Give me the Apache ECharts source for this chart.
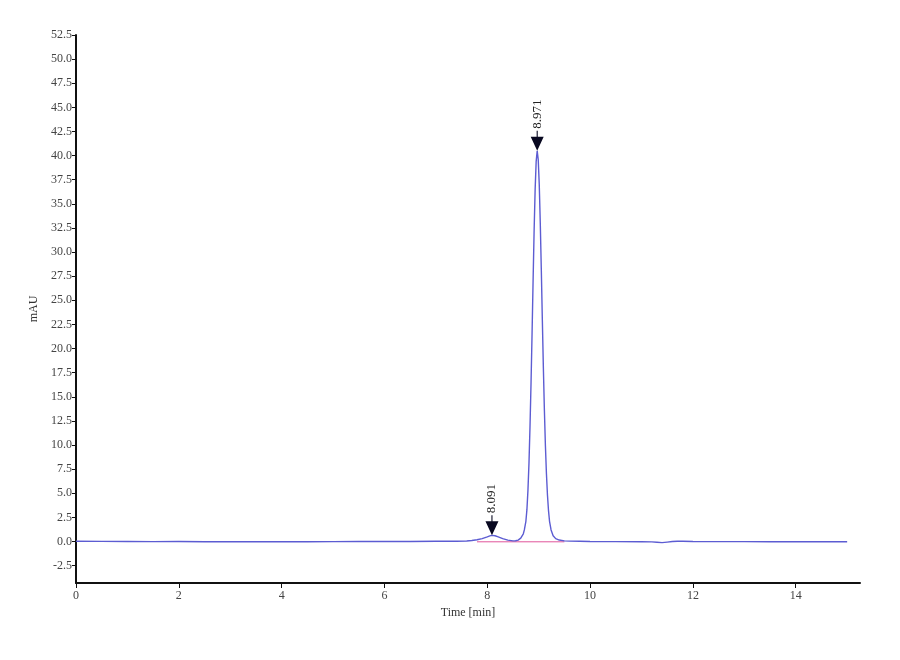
<!DOCTYPE html>
<html>
<head>
<meta charset="utf-8">
<script src="https://cdn.jsdelivr.net/npm/echarts@6/dist/echarts.min.js"></script>
<style>
  html, body { margin: 0; padding: 0; background: #fff; }
  #chart { width: 900px; height: 660px; }
</style>
</head>
<body>
<div id="chart"></div>
<script>
// Chromatogram trace (time in min, signal in mAU).
const times = [
  0, 0.5, 1, 1.5, 2, 2.5, 3, 3.5, 4, 4.5, 5, 5.5, 6, 6.5, 7, 7.4, 7.6, 7.7, 7.8, 7.9,
  8.0, 8.05, 8.091, 8.15, 8.2, 8.3, 8.4, 8.5, 8.55, 8.6, 8.651, 8.701, 8.721, 8.751,
  8.771, 8.791, 8.811, 8.831, 8.851, 8.871, 8.891, 8.911, 8.931, 8.951, 8.971,
  8.991, 9.011, 9.031, 9.051, 9.071, 9.091, 9.111, 9.131, 9.151, 9.171, 9.191,
  9.211, 9.241, 9.281, 9.331, 9.4, 9.5, 9.6, 9.8, 10.0, 10.5, 11.0, 11.2, 11.3,
  11.4, 11.5, 11.6, 11.7, 11.8, 12.0, 12.5, 13.0, 13.5, 14.0, 14.5, 15.0
];
const signal = [
  0.02, 0.01, 0.0, -0.01, 0.0, -0.02, -0.02, -0.03, -0.03, -0.02, -0.01, 0.0, 0.0, 0.0, 0.02, 0.03, 0.06, 0.1, 0.18, 0.3,
  0.48, 0.58, 0.64, 0.6, 0.5, 0.3, 0.14, 0.07, 0.08, 0.15, 0.35, 0.8, 1.2, 2.1,
  3.3, 5.3, 8.1, 11.9, 16.4, 21.5, 27.0, 32.2, 36.5, 39.4, 40.5,
  39.6, 37.0, 33.0, 28.2, 23.0, 18.0, 13.6, 9.9, 7.0, 4.8, 3.2,
  2.1, 1.2, 0.6, 0.3, 0.15, 0.07, 0.04, 0.02, 0.0, -0.01, -0.02, -0.04, -0.08,
  -0.12, -0.06, 0.0, 0.03, 0.02, 0.0, -0.01, -0.01, -0.02, -0.01, -0.02, -0.02
];

// integration baseline drawn under the two peaks
const baseTimes = [7.8, 9.5];
const baseValues = [-0.03, -0.03];

// marked peaks
const peakTimes = [8.091, 8.971];
const peakHeights = [0.64, 40.5];
const peakLabels = ['8.091', '8.971'];

// axis ticks
const xTicks = [0, 2, 4, 6, 8, 10, 12, 14];
const yTicks = [-2.5, 0, 2.5, 5, 7.5, 10, 12.5, 15, 17.5, 20, 22.5, 25, 27.5, 30,
  32.5, 35, 37.5, 40, 42.5, 45, 47.5, 50, 52.5];

const font = '"Liberation Serif", "DejaVu Serif", serif';
const axisColor = '#111';

const chart = echarts.init(document.getElementById('chart'), null, { renderer: 'canvas' });

chart.setOption({
  backgroundColor: '#fff',
  animation: false,
  grid: { left: 76, right: 40, top: 35, bottom: 77 },
  xAxis: {
    type: 'value',
    min: 0,
    max: 15.25,
    name: 'Time [min]',
    nameLocation: 'middle',
    nameGap: 15,
    nameTextStyle: { fontFamily: font, fontSize: 12, color: '#333' },
    axisLine: { onZero: false, lineStyle: { color: axisColor, width: 2 } },
    axisTick: { customValues: xTicks, length: 5, lineStyle: { color: axisColor } },
    axisLabel: {
      customValues: xTicks, fontFamily: font, fontSize: 12, color: '#444', margin: 7
    },
    splitLine: { show: false }
  },
  yAxis: {
    type: 'value',
    min: -4.3,
    max: 52.5,
    name: 'mAU',
    nameLocation: 'middle',
    nameGap: 36,
    nameTextStyle: { fontFamily: font, fontSize: 12, color: '#333' },
    axisLine: { onZero: false, lineStyle: { color: axisColor, width: 2 } },
    axisTick: { customValues: yTicks, length: 4, lineStyle: { color: axisColor } },
    axisLabel: {
      customValues: yTicks, fontFamily: font, fontSize: 12, color: '#444', margin: 4,
      formatter: v => v.toFixed(1)
    },
    splitLine: { show: false }
  },
  series: [
    {
      type: 'line',
      data: times.map((t, i) => [t, signal[i]]),
      showSymbol: false,
      lineStyle: { color: '#5c5cd2', width: 1.4 },
      z: 2
    },
    {
      type: 'line',
      data: baseTimes.map((t, i) => [t, baseValues[i]]),
      showSymbol: false,
      lineStyle: { color: '#e0559a', width: 1 },
      z: 1
    },
    {
      type: 'scatter',
      data: peakTimes.map((t, i) => ({ value: [t, peakHeights[i]], name: peakLabels[i] })),
      symbol: 'path://M5.5,0 L6.5,0 L6.5,6 L12,6 L6,20 L0,6 L5.5,6 Z',
      symbolSize: [13, 20],
      symbolOffset: [0, '-50%'],
      itemStyle: { color: '#080820', opacity: 1 },
      label: {
        show: true,
        formatter: p => p.name,
        position: 'top',
        distance: 2,
        rotate: 90,
        align: 'left',
        verticalAlign: 'middle',
        fontFamily: font,
        fontSize: 13,
        color: '#222'
      },
      z: 3
    }
  ]
});
</script>
</body>
</html>
